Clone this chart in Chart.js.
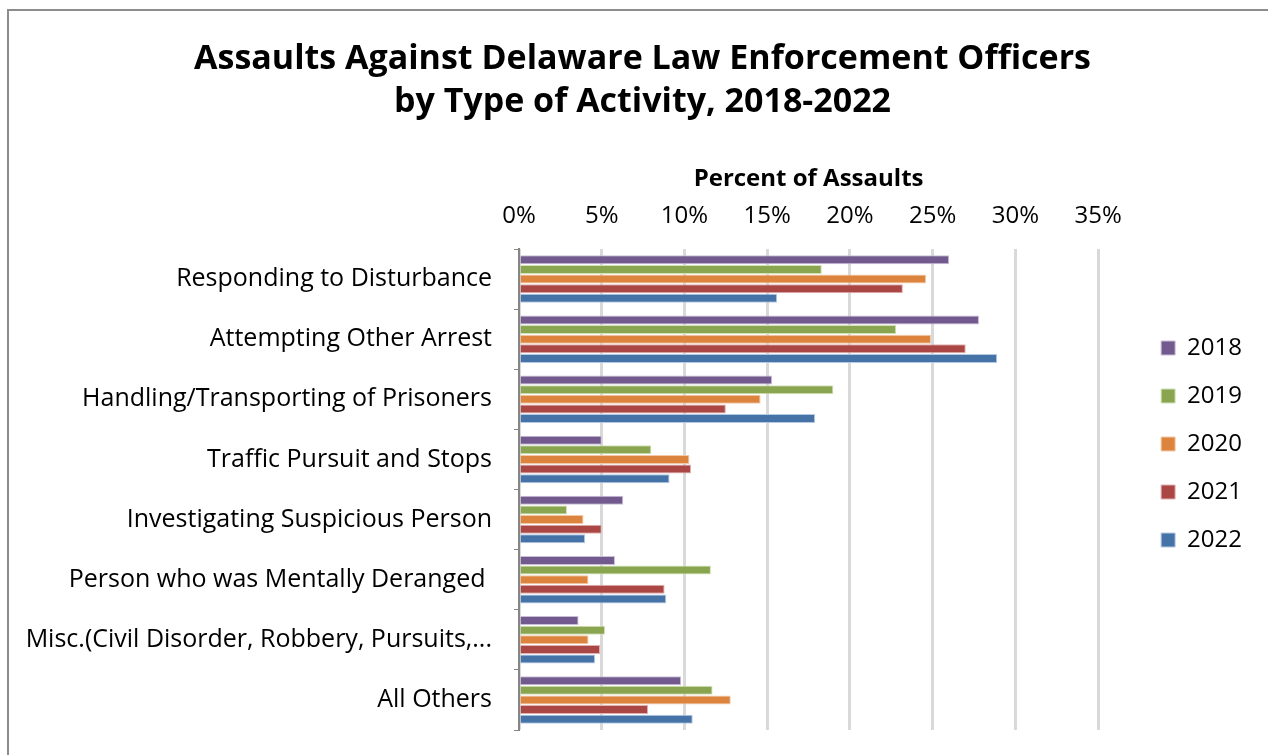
<!DOCTYPE html>
<html>
<head>
<meta charset="utf-8">
<title>Assaults Against Delaware Law Enforcement Officers</title>
<script src="https://cdn.jsdelivr.net/npm/chart.js@4"></script>
<style>
  html, body { margin: 0; padding: 0; background: #fff; }
  canvas { display: block; }
</style>
</head>
<body>
<canvas id="assaultChart" width="1268" height="755"></canvas>
<script>
// Categorias de atividade e percentuais por ano
const activities = [
    'Responding to Disturbance',
    'Attempting Other Arrest',
    'Handling/Transporting of Prisoners',
    'Traffic Pursuit and Stops',
    'Investigating Suspicious Person',
    'Person who was Mentally Deranged ',
    'Misc.(Civil Disorder, Robbery, Pursuits,...',
    'All Others'
];
const years = ['2018', '2019', '2020', '2021', '2022'];

const pct2018 = [26.0, 27.8, 15.3, 5.0, 6.3, 5.8, 3.6, 9.8];
const pct2019 = [18.3, 22.8, 19.0, 8.0, 2.9, 11.6, 5.2, 11.7];
const pct2020 = [24.6, 24.9, 14.6, 10.3, 3.9, 4.2, 4.2, 12.8];
const pct2021 = [23.2, 27.0, 12.5, 10.4, 5.0, 8.8, 4.9, 7.8];
const pct2022 = [15.6, 28.9, 17.9, 9.1, 4.0, 8.9, 4.6, 10.5];

const yearValues = [pct2018, pct2019, pct2020, pct2021, pct2022];
const fillColors = ['#725a8e', '#8aa550', '#dc833e', '#aa4745', '#4573a7'];
const edgeColors = ['#c9bdd8', '#d3e2b8', '#f3c9a8', '#e0b3b2', '#b6c9e2'];

// Moldura cinza (topo e lado esquerdo)
const framePlugin = {
    id: 'frame',
    beforeDraw(chart) {
        const ctx = chart.ctx;
        ctx.save();
        ctx.fillStyle = '#fff';
        ctx.fillRect(0, 0, chart.width, chart.height);
        ctx.strokeStyle = '#8c8c8c';
        ctx.lineWidth = 2;
        ctx.beginPath();
        ctx.moveTo(8, chart.height);
        ctx.lineTo(8, 10);
        ctx.lineTo(chart.width, 10);
        ctx.stroke();
        ctx.restore();
    }
};

// Ajusta a posição do título e da legenda depois do layout
const boxShift = {
    id: 'boxShift',
    afterLayout(chart) {
        const tb = chart.titleBlock;
        if (tb) {
            tb.left += 28;
            tb.right += 28;
        }
        const lg = chart.legend;
        if (lg) {
            lg.left += 39;
            lg.right += 39;
            lg.top += 79;
            lg.bottom += 79;
        }
    }
};

const datasets = years.map((yr, i) => ({
    label: yr,
    data: yearValues[i],
    backgroundColor: fillColors[i],
    borderColor: edgeColors[i],
    borderWidth: 1,
    categoryPercentage: 0.8,
    barPercentage: 0.93
}));

new Chart(document.getElementById('assaultChart').getContext('2d'), {
    type: 'bar',
    data: { labels: activities, datasets: datasets },
    plugins: [framePlugin, boxShift],
    options: {
        responsive: false,
        animation: false,
        indexAxis: 'y',
        layout: { padding: { left: 16, right: 55, top: 0, bottom: 25 } },
        plugins: {
            title: {
                display: true,
                text: ['Assaults Against Delaware Law Enforcement Officers', 'by Type of Activity, 2018-2022'],
                color: '#000',
                font: { family: 'Open Sans', size: 34, weight: 'bold', lineHeight: 1.265 },
                padding: { top: 38, bottom: 17 }
            },
            legend: {
                position: 'right',
                labels: {
                    color: '#000',
                    font: { family: 'Open Sans', size: 24 },
                    boxWidth: 14,
                    boxHeight: 14,
                    padding: 24
                }
            },
            tooltip: { enabled: false }
        },
        scales: {
            x: {
                position: 'top',
                min: 0,
                max: 35,
                ticks: {
                    stepSize: 5,
                    padding: 18,
                    color: '#000',
                    font: { family: 'Open Sans', size: 24 },
                    callback: v => v + '%'
                },
                grid: { color: '#d9d9d9', lineWidth: 3, drawTicks: false },
                border: { display: false },
                title: {
                    display: true,
                    text: 'Percent of Assaults',
                    color: '#000',
                    font: { family: 'Open Sans', size: 24, weight: 'bold' },
                    padding: { top: 24, bottom: 0 }
                },
                afterFit(scale) { scale.height = 108; }
            },
            y: {
                ticks: {
                    padding: 22,
                    color: '#000',
                    font: { family: 'Open Sans', size: 25 }
                },
                grid: { drawOnChartArea: false, tickLength: 5, color: '#868686' },
                border: { display: true, color: '#868686', width: 2 },
                afterFit(scale) {
                    scale.width = 503;
                    scale.paddingTop = 0;
                    scale.paddingBottom = 0;
                }
            }
        }
    }
});
</script>
</body>
</html>
